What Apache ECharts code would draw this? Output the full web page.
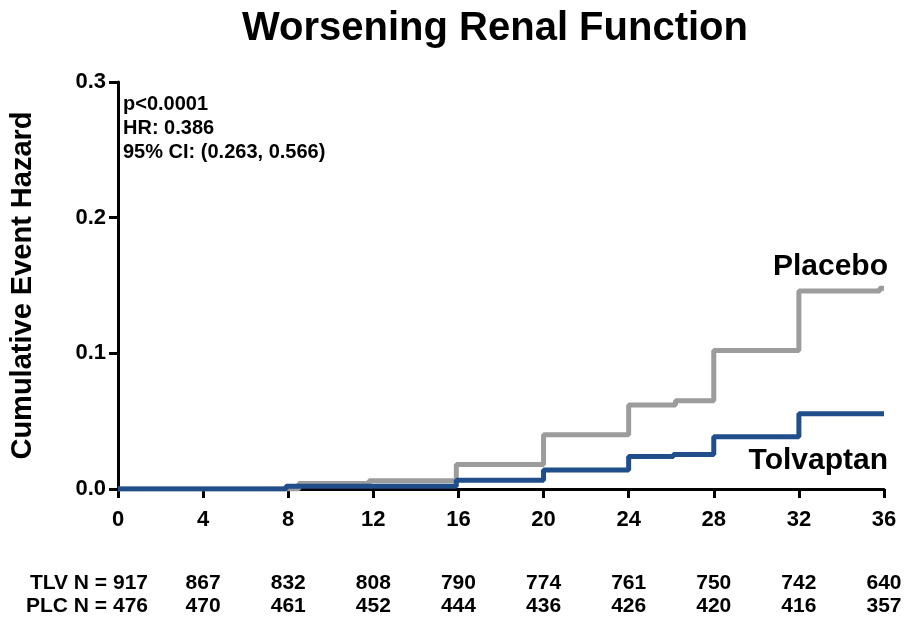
<!DOCTYPE html>
<html><head><meta charset="utf-8">
<script src="https://cdn.jsdelivr.net/npm/echarts@6/dist/echarts.min.js"></script>
<style>html,body{margin:0;padding:0;background:#fff}#c{width:904px;height:620px}</style>
</head><body><div id="c"></div>
<script>
// Data (weeks, cumulative event hazard)
var placeboX = [0, 8.5, 11.8, 15.9, 20, 24, 26.2, 28, 32, 35.8, 36];
var placeboY = [0, 0.004, 0.006, 0.018, 0.040, 0.062, 0.065, 0.102, 0.146, 0.148, 0.148];
var tolvX = [0, 7.9, 15.9, 20, 24, 26.1, 28, 32, 36];
var tolvY = [0, 0.002, 0.0065, 0.014, 0.024, 0.0255, 0.0385, 0.0555, 0.056];
var riskWeeks = [0, 4, 8, 12, 16, 20, 24, 28, 32, 36];
var tlvN = [917, 867, 832, 808, 790, 774, 761, 750, 742, 640];
var plcN = [476, 470, 461, 452, 444, 436, 426, 420, 416, 357];
var statsText = ['p<0.0001', 'HR: 0.386', '95% CI: (0.263, 0.566)'];

function pairs(xs, ys){ return xs.map(function(x,i){return [x, ys[i]];}); }
var FF = '"Liberation Sans", Arial, sans-serif';
var chart = echarts.init(document.getElementById('c'));
var opt = {
  animation: false,
  backgroundColor: '#fff',
  title: {text: 'Worsening Renal Function', left: 490, top: 4, textAlign: 'center',
    textStyle: {fontFamily: FF, fontWeight: 'bold', fontSize: 40, color: '#000'}},
  grid: {left: 118, right: 20, top: 82, bottom: 131},
  xAxis: {type: 'value', min: 0, max: 36, interval: 4,
    axisLine: {lineStyle: {color: '#000', width: 3}},
    axisTick: {length: 9, lineStyle: {color: '#000', width: 3}},
    splitLine: {show: false},
    axisLabel: {fontFamily: FF, fontWeight: 'bold', fontSize: 22, color: '#000', margin: 20}},
  yAxis: {type: 'value', min: 0, max: 0.3, interval: 0.1,
    name: 'Cumulative Event Hazard', nameLocation: 'middle', nameGap: 81,
    nameTextStyle: {fontFamily: FF, fontWeight: 'bold', fontSize: 29, color: '#000'},
    axisLine: {show: true, lineStyle: {color: '#000', width: 3}},
    axisTick: {show: true, length: 9, lineStyle: {color: '#000', width: 3}},
    splitLine: {show: false},
    axisLabel: {fontFamily: FF, fontWeight: 'bold', fontSize: 22, color: '#000', margin: 12,
      formatter: function(v){return v.toFixed(1);}}},
  series: [
    {name: 'Placebo', type: 'line', step: 'end', showSymbol: false, data: pairs(placeboX, placeboY),
      lineStyle: {color: '#9c9c9c', width: 5}, z: 2},
    {name: 'Tolvaptan', type: 'line', step: 'end', showSymbol: false, data: pairs(tolvX, tolvY),
      lineStyle: {color: '#1f4e8a', width: 5}, z: 3}
  ]
};
chart.setOption(opt);

var g = [];
statsText.forEach(function(t, i){
  g.push({type: 'text', x: 123, y: 104 + i*24, style: {text: t, font: 'bold 20px ' + FF, fill: '#000', verticalAlign: 'middle'}});
});
g.push({type: 'text', x: 888, y: 267, style: {text: 'Placebo', font: 'bold 30px ' + FF, fill: '#000', align: 'right', verticalAlign: 'middle'}});
g.push({type: 'text', x: 888, y: 461, style: {text: 'Tolvaptan', font: 'bold 30px ' + FF, fill: '#000', align: 'right', verticalAlign: 'middle'}});
var RF = 'bold 21px ' + FF;
riskWeeks.forEach(function(w, i){
  var px = chart.convertToPixel({xAxisIndex: 0}, w);
  if (i === 0) {
    g.push({type: 'text', x: px + 30, y: 583, style: {text: 'TLV N = ' + tlvN[i], font: RF, fill: '#000', align: 'right', verticalAlign: 'middle'}});
    g.push({type: 'text', x: px + 30, y: 606, style: {text: 'PLC N = ' + plcN[i], font: RF, fill: '#000', align: 'right', verticalAlign: 'middle'}});
  } else {
    g.push({type: 'text', x: px, y: 583, style: {text: String(tlvN[i]), font: RF, fill: '#000', align: 'center', verticalAlign: 'middle'}});
    g.push({type: 'text', x: px, y: 606, style: {text: String(plcN[i]), font: RF, fill: '#000', align: 'center', verticalAlign: 'middle'}});
  }
});
chart.setOption({graphic: g});
</script></body></html>
